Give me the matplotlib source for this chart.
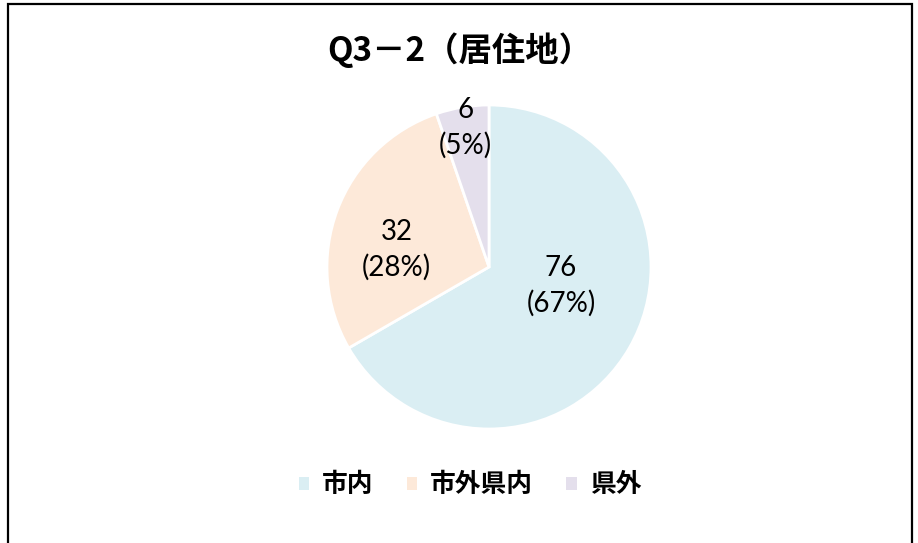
import matplotlib
matplotlib.use("Agg")
import matplotlib.pyplot as plt
from matplotlib.patches import Rectangle
import numpy as np

plt.rcParams['font.family'] = ['Noto Sans CJK JP', 'DejaVu Sans']

title = "Q3－2（居住地）"
categories = ["市内", "市外県内", "県外"]
values = [76, 32, 6]
colors = ["#DAEEF3", "#FDE9D9", "#E4DFEC"]

# label placement (distance from centre, angle shift in degrees) like Excel best fit
label_dist = [0.46, 0.58, 0.87]
label_shift = [15, 10, 0]

W, H = 918, 543
fig = plt.figure(figsize=(W / 100, H / 100), dpi=100)

# outer frame of the chart area
fig.patches.append(Rectangle((8 / W, -0.05), 904 / W, 1 - 4 / H + 0.05,
                             transform=fig.transFigure, fill=False,
                             edgecolor="black", linewidth=1.6))

cx, cy, r = 489, 267, 162
ax = fig.add_axes([(cx - r) / W, 1 - (cy + r) / H, 2 * r / W, 2 * r / H])
wedges, _ = ax.pie(values, colors=colors, startangle=90, counterclock=False,
                   radius=1, wedgeprops=dict(edgecolor="white", linewidth=2))
ax.set_xlim(-1, 1)
ax.set_ylim(-1, 1)
ax.set_aspect("equal")
ax.axis("off")

total = sum(values)
for w, v, d, s in zip(wedges, values, label_dist, label_shift):
    ang = np.deg2rad((w.theta1 + w.theta2) / 2 + s)
    ax.text(d * np.cos(ang), d * np.sin(ang), f"{v}\n({v / total:.0%})",
            ha="center", va="center", fontsize=20, family=["Lato", "DejaVu Sans"],
            color="#000000", linespacing=1.4)

fig.text(460 / W, 1 - 50 / H, title, ha="center", va="center",
         fontsize=24, fontweight="bold")

leg = fig.legend(wedges, categories, loc="center", bbox_to_anchor=(470 / W, 1 - 485 / H),
                 ncol=3, frameon=False, handlelength=0.4, handleheight=0.4,
                 handletextpad=0.5, columnspacing=1.3,
                 prop=dict(size=18.5, weight="bold"))
for h in leg.legend_handles:
    h.set_edgecolor("none")

fig.savefig("out.png", dpi=100)
